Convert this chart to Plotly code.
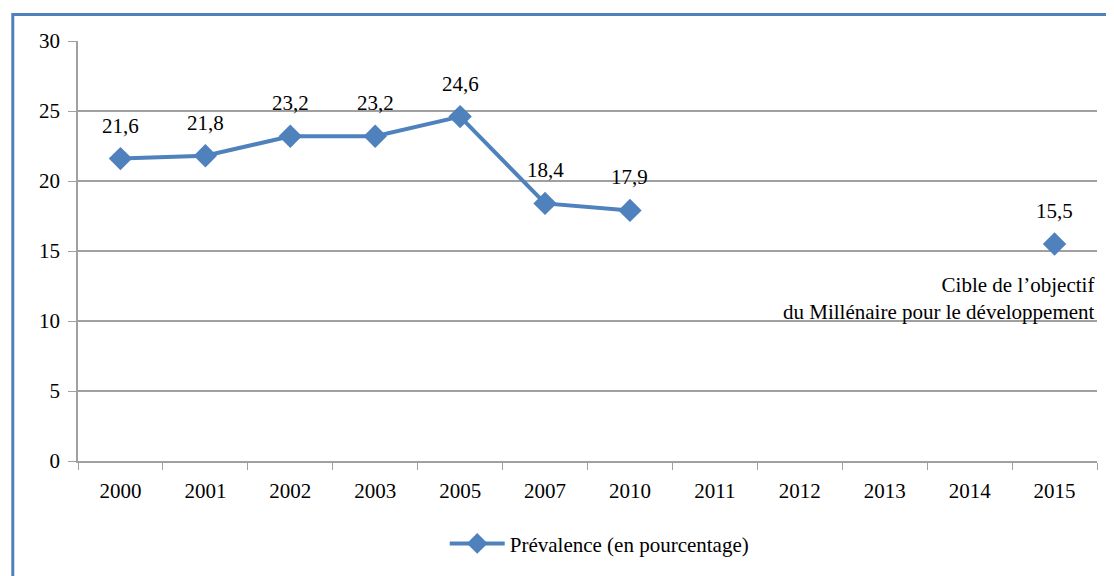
import plotly.graph_objects as go

# Data ------------------------------------------------------------------
years = ["2000", "2001", "2002", "2003", "2005", "2007", "2010",
         "2011", "2012", "2013", "2014", "2015"]
prevalence = [21.6, 21.8, 23.2, 23.2, 24.6, 18.4, 17.9,
              None, None, None, None, 15.5]
seriesName = "Prévalence (en pourcentage)"
targetNote = "Cible de l\u2019objectif<br>du Millénaire pour le développement"
yTicks = [0, 5, 10, 15, 20, 25, 30]

blue = "rgb(79, 129, 189)"
grey = "rgb(160, 160, 160)"
font = "Liberation Serif"

fig = go.Figure()
fig.add_trace(go.Scatter(
    name=seriesName,
    x=years,
    y=prevalence,
    mode="lines+markers",
    connectgaps=False,  # 2015 target is a lone point
    line=dict(color=blue, width=4),
    marker=dict(symbol="diamond", size=18, color=blue),
))

# Data labels above each point (comma decimals, French style)
# category axis -> annotations placed by category index
for i, val in enumerate(prevalence):
    if val is None:
        continue
    fig.add_annotation(x=i, y=val, text=f"{val:.1f}".replace(".", ","),
                       showarrow=False, yshift=33, font=dict(size=21))

fig.add_annotation(x=1, xref="paper", xanchor="right", y=11.6, text=targetNote,
                   showarrow=False, align="right", font=dict(size=21))

# Blue frame round the whole chart
fig.add_shape(type="rect", xref="paper", yref="paper",
              x0=-0.064, x1=1.05, y0=-0.3, y1=1.063,
              line=dict(color=blue, width=3), fillcolor="rgba(0,0,0,0)")

fig.update_layout(
    width=1106, height=568,  # page body adds an 8px margin
    margin=dict(l=70, r=17, t=33, b=109),
    paper_bgcolor="white", plot_bgcolor="white",
    font=dict(family=font, size=21, color="black"),
    showlegend=True,
    legend=dict(orientation="h", x=0.512, xanchor="center", y=-0.197, yanchor="middle",
                itemwidth=55, font=dict(size=21)),
    xaxis=dict(type="category", showgrid=False, showline=True, linecolor=grey, linewidth=1.5,
               ticks="outside", tickson="boundaries", ticklen=7, tickcolor=grey,
               ticklabelstandoff=10, range=[-0.5, 11.5], fixedrange=True),
    yaxis=dict(range=[0, 30], tickvals=yTicks, showgrid=True, gridcolor=grey, gridwidth=1.5,
               showline=True, linecolor=grey, linewidth=1.5, zeroline=False,
               ticks="outside", ticklen=8, tickcolor=grey, ticklabelstandoff=4),
)

fig.write_html("out.html")
